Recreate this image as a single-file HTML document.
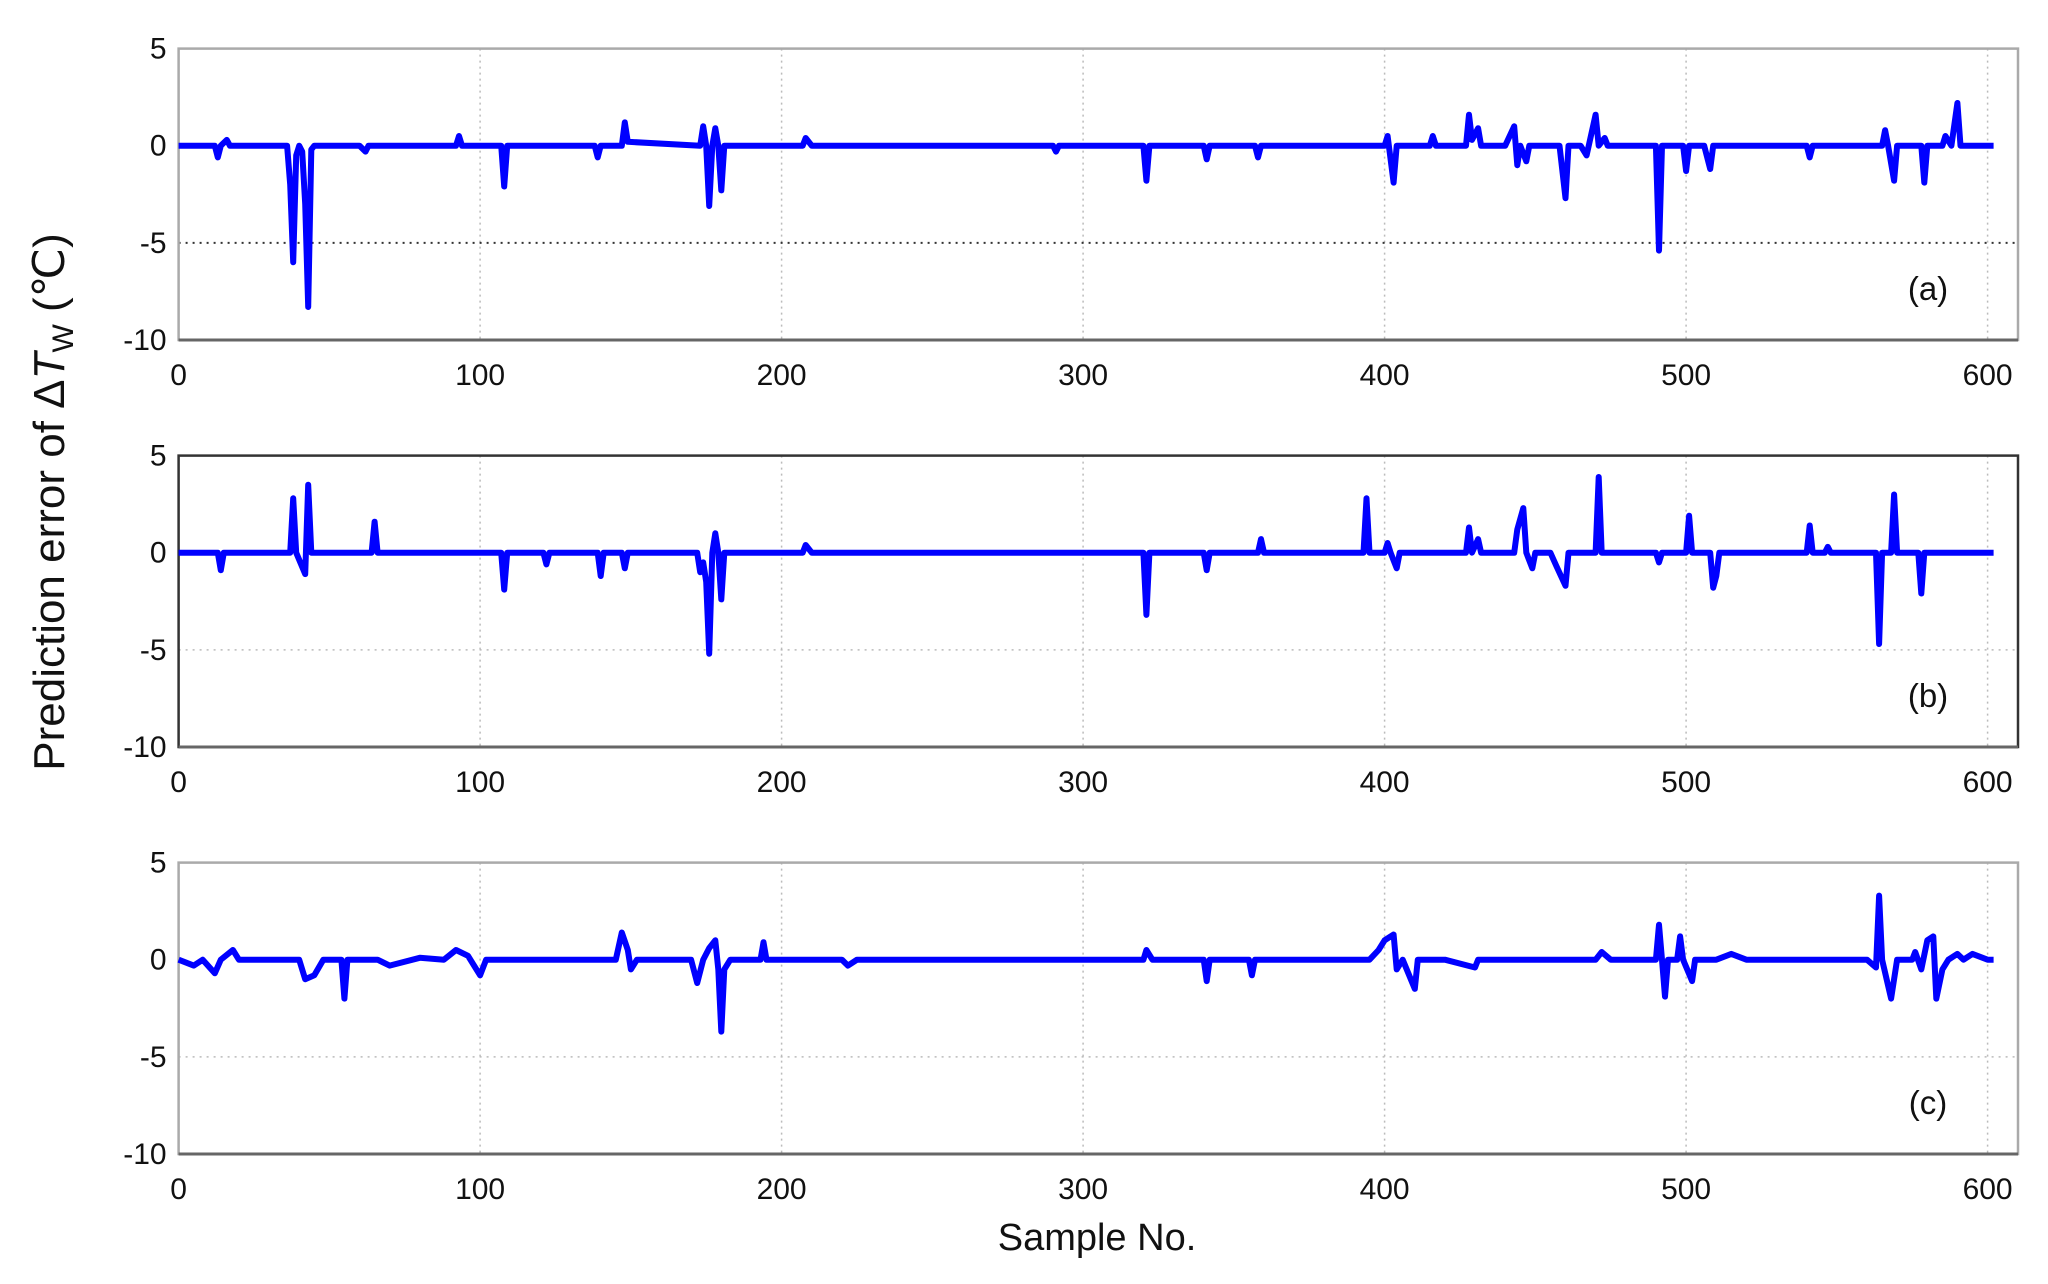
<!DOCTYPE html>
<html><head><meta charset="utf-8"><style>
html,body{margin:0;padding:0;background:#fff;}
svg{display:block;}
text{font-family:"Liberation Sans",sans-serif;fill:#111;}
</style></head>
<body>
<svg id="chart" width="2048" height="1284" viewBox="0 0 2048 1284" xmlns="http://www.w3.org/2000/svg">
<text transform="translate(64,502) rotate(-90)" text-anchor="middle" font-size="44">Prediction error of   <tspan>Δ</tspan><tspan font-style="italic">T</tspan><tspan font-size="30" dy="9">W</tspan><tspan dy="-9"> (℃)</tspan></text>
<text x="1097" y="1250" text-anchor="middle" font-size="38">Sample No.</text>
</svg>
<script>
const xTicks=[0,100,200,300,400,500,600];
const yTicks=[5,0,-5,-10];
const panelLabels=["(a)","(b)","(c)"];
const sampleA=[0,12,13,14,16,17,36,37,38,39,40,41,42,43,44,45,60,62,63,92,93,94,107,108,109,138,139,140,147,148,149,173,174,175,176,177,178,179,180,181,207,208,210,290,291,292,320,321,322,340,341,342,357,358,359,400,401,403,404,415,416,417,427,428,429,431,432,440,443,444,445,447,448,458,460,461,465,467,470,471,473,474,490,491,492,499,500,501,506,508,509,540,541,542,565,566,567,569,570,578,579,580,585,586,588,590,591,602];
const valueA=[0,0,-0.6,0,0.3,0,0,-2,-6,-0.5,0,-0.3,-3,-8.3,-0.2,0,0,-0.3,0,0,0.5,0,0,-2.1,0,0,-0.6,0,0,1.2,0.2,0,1,0,-3.1,0,0.9,0,-2.3,0,0,0.4,0,0,-0.3,0,0,-1.8,0,0,-0.7,0,0,-0.6,0,0,0.5,-1.9,0,0,0.5,0,0,1.6,0.3,0.9,0,0,1,-1,0,-0.8,0,0,-2.7,0,0,-0.5,1.6,0,0.4,0,0,-5.4,0,0,-1.3,0,0,-1.2,0,0,-0.6,0,0,0.8,0,-1.8,0,0,-1.9,0,0,0.5,0,2.2,0,0];
const sampleB=[0,13,14,15,37,38,39,42,43,44,64,65,66,107,108,109,121,122,123,139,140,141,147,148,149,172,173,174,175,176,177,178,179,180,181,207,208,210,320,321,322,340,341,342,358,359,360,393,394,395,400,401,402,404,405,427,428,429,431,432,443,444,446,447,449,450,455,457,460,461,470,471,472,490,491,492,500,501,502,508,509,510,511,540,541,542,546,547,548,563,564,565,568,569,570,577,578,579,602];
const valueB=[0,0,-0.9,0,0,2.8,0,-1.1,3.5,0,0,1.6,0,0,-1.9,0,0,-0.6,0,0,-1.2,0,0,-0.8,0,0,-1,-0.5,-1.5,-5.2,0,1,0,-2.4,0,0,0.4,0,0,-3.2,0,0,-0.9,0,0,0.7,0,0,2.8,0,0,0.5,0,-0.8,0,0,1.3,0,0.7,0,0,1.2,2.3,0,-0.8,0,0,-0.7,-1.7,0,0,3.9,0,0,-0.5,0,0,1.9,0,0,-1.8,-1.2,0,0,1.4,0,0,0.3,0,0,-4.7,0,0,3,0,0,-2.1,0,0];
const sampleC=[0,5,8,12,14,18,20,40,42,45,48,54,55,56,62,66,70,80,88,92,96,100,102,130,145,147,149,150,152,170,172,174,176,178,179,180,181,183,193,194,195,220,222,225,320,321,323,340,341,342,355,356,357,395,398,400,403,404,406,410,411,420,430,431,470,472,475,490,491,492,493,494,497,498,499,502,503,510,515,520,540,560,563,564,565,568,570,575,576,578,580,582,583,585,587,590,592,595,600,602];
const valueC=[0,-0.3,0,-0.7,0,0.5,0,0,-1,-0.8,0,0,-2,0,0,0,-0.3,0.1,0,0.5,0.2,-0.8,0,0,0,1.4,0.5,-0.5,0,0,-1.2,0,0.6,1,-0.5,-3.7,-0.5,0,0,0.9,0,0,-0.3,0,0,0.5,0,0,-1.1,0,0,-0.8,0,0,0.5,1,1.3,-0.5,0,-1.5,0,0,-0.4,0,0,0.4,0,0,1.8,0,-1.9,0,0,1.2,0,-1.1,0,0,0.3,0,0,0,-0.4,3.3,0,-2,0,0,0.4,-0.5,1,1.2,-2,-0.5,0,0.3,0,0.3,0,0];

const NS="http://www.w3.org/2000/svg";
const svg=document.getElementById('chart');
const L=178.6,R=2018,PW=R-L;
const tops=[48.6,455.6,862.6],PH=291.4;
function xs(v){return L+v*(1987.6-L)/600;}
function mk(tag,attrs,parent){const e=document.createElementNS(NS,tag);for(const k in attrs)e.setAttribute(k,attrs[k]);(parent||svg).appendChild(e);return e;}
const series=[[sampleA,valueA],[sampleB,valueB],[sampleC,valueC]];
const names=["a","b","c"];
for(let p=0;p<3;p++){
  const T=tops[p];
  const ys=v=>T+(5-v)*PH/15;
  const g=mk('g',{});
  
  
  for(const t of xTicks){ if(t===0)continue;
    const gl=mk('line',{x1:xs(t),x2:xs(t),y1:T,y2:T+PH,stroke:'#bbb','stroke-width':1.5,'stroke-dasharray':'2,4'},g);
    
    
  }
  const hl=mk('line',{x1:L,x2:R,y1:ys(-5),y2:ys(-5),stroke:p===0?'#333':'#bbb','stroke-width':p===0?2:1.5,'stroke-dasharray':'2,5'},g);
  
  
  const fr=mk('rect',{x:L,y:T,width:PW,height:PH,fill:'none',stroke:p===1?'#333':'#aaa','stroke-width':2.5},g);
  
  
  mk('line',{x1:L,x2:R,y1:T+PH,y2:T+PH,stroke:'#666','stroke-width':3},g);
  for(const t of yTicks){
    const tl=mk('text',{x:L-12,y:ys(t)+10,'text-anchor':'end','font-size':30},g);
    tl.textContent=t;
    
    
  }
  for(const t of xTicks){
    const tl=mk('text',{x:xs(t),y:T+PH+45,'text-anchor':'middle','font-size':30},g);
    tl.textContent=t;
    
    
  }
  const [sx,sv]=series[p];
  let d='';
  for(let i=0;i<sx.length;i++){d+=(i?'L':'M')+xs(sx[i]).toFixed(1)+','+ys(sv[i]).toFixed(1);}
  const path=mk('path',{d:d,fill:'none',stroke:'#0000ff','stroke-width':6,'stroke-linejoin':'round'},g);
  
  
  const lab=mk('text',{x:1928,y:T+PH-40,'text-anchor':'middle','font-size':33},g);
  lab.textContent=panelLabels[p];
  
  
}
</script>
</body></html>
